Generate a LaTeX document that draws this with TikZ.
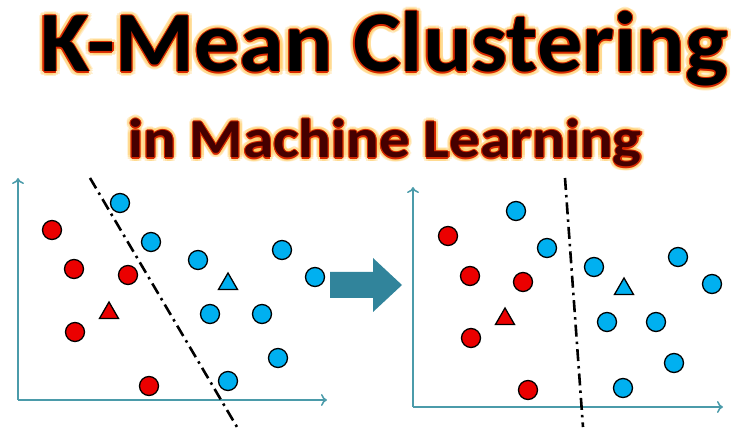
\documentclass[tikz,border=0pt]{standalone}
\usepackage{fontspec}
\setmainfont{Carlito}
\usetikzlibrary{positioning,shapes.geometric,calc,arrows.meta}

\definecolor{ptblue}{RGB}{0,176,240}
\definecolor{ptred}{RGB}{235,0,0}
\definecolor{axisteal}{RGB}{75,155,170}
\definecolor{arrowteal}{RGB}{49,132,155}
\definecolor{glowor}{RGB}{255,200,90}
\definecolor{glowred}{RGB}{215,40,0}
\definecolor{subred}{RGB}{70,0,0}

\newcommand{\titletext}{\scalebox{1.05}[1]{K-Mean Clustering}}
\newcommand{\subtext}{\scalebox{1.11}[1]{in Machine Learning}}

\tikzset{
  bpt/.style={circle, draw, line width=1.3pt, fill=ptblue, minimum size=19pt, inner sep=0pt},
  rpt/.style={bpt, fill=ptred},
  btri/.style={regular polygon, regular polygon sides=3, draw, line width=1.3pt, fill=ptblue, minimum size=22pt, inner sep=0pt},
  rtri/.style={btri, fill=ptred},
  axis/.style={draw=axisteal, line width=1.5pt, -{To[length=6pt,width=12pt]}},
  splitline/.style={line width=2.6pt, dash pattern=on 12pt off 5pt on 2.5pt off 5pt},
  bigtitle/.style={font=\fontsize{86}{86}\selectfont\bfseries, anchor=base, inner sep=0pt},
  smalltitle/.style={font=\fontsize{55}{55}\selectfont\bfseries, anchor=base, inner sep=0pt},
}

\begin{document}
\begin{tikzpicture}[x=1pt,y=-1pt]
\useasboundingbox (0,0) rectangle (739,430);

% title with glow
\foreach \a in {0,30,...,330}{
  \node[bigtitle, text=glowor, opacity=0.3] (tg\a) at ($(384,72)+(\a:4.5)$) {\titletext};
  \node[smalltitle, text=glowor, opacity=0.3] (sg\a) at ($(385,158)+(\a:4)$) {\subtext};
}
\foreach \a in {0,45,...,315}{
  \node[bigtitle, text=glowred] (tr\a) at ($(384,72)+(\a:1.2)$) {\titletext};
  \node[smalltitle, text=glowred] (sr\a) at ($(385,158)+(\a:1.1)$) {\subtext};
}
\node[bigtitle, text=black] (title) at (384,72) {\titletext};
\node[smalltitle, text=subred] (subtitle) at (385,158) {\subtext};

% left panel
\coordinate (lo) at (18,400);
\coordinate (ly) at (18,178);
\coordinate (lx) at (327,400);
\draw[axis] (lo) -- (ly);
\draw[axis] (lo) -- (lx);
\coordinate (ls1) at (90,178);
\coordinate (ls2) at (237,427);
\draw[splitline] (ls1) -- (ls2);

\node[bpt] (lb1) at (120,203) {};
\node[bpt] (lb2) at (151,242) {};
\node[bpt] (lb3) at (198,260) {};
\node[bpt] (lb4) at (282,250) {};
\node[bpt] (lb5) at (315,277) {};
\node[bpt] (lb6) at (210,314) {};
\node[bpt] (lb7) at (262,314) {};
\node[bpt] (lb8) at (278,358) {};
\node[bpt] (lb9) at (228,381) {};
\node[btri] (lbc) at (228,284) {};

\node[rpt] (lr1) at (52,230) {};
\node[rpt] (lr2) at (74,269) {};
\node[rpt] (lr3) at (128,275) {};
\node[rpt] (lr4) at (75,332) {};
\node[rpt] (lr5) at (149,386) {};
\node[rtri] (lrc) at (109,313) {};

% step arrow
\fill[arrowteal] (330,272) -- (373,272) -- (373,258) -- (402,285)
  -- (373,312) -- (373,298) -- (330,298) -- cycle;

% right panel
\coordinate (ro) at (413,407);
\coordinate (ry) at (413,187);
\coordinate (rx) at (723,407);
\draw[axis] (ro) -- (ry);
\draw[axis] (ro) -- (rx);
\coordinate (rs1) at (565,178);
\coordinate (rs2) at (583,427);
\draw[splitline] (rs1) -- (rs2);

\node[bpt] (rb1) at (516,211) {};
\node[bpt] (rb2) at (547,248) {};
\node[bpt] (rb3) at (594,267) {};
\node[bpt] (rb4) at (678,257) {};
\node[bpt] (rb5) at (712,284) {};
\node[bpt] (rb6) at (607,322) {};
\node[bpt] (rb7) at (656,322) {};
\node[bpt] (rb8) at (674,363) {};
\node[bpt] (rb9) at (623,388) {};
\node[btri] (rbc) at (624,289) {};

\node[rpt] (rr1) at (448,236) {};
\node[rpt] (rr2) at (470,276) {};
\node[rpt] (rr3) at (523,282) {};
\node[rpt] (rr4) at (471,338) {};
\node[rpt] (rr5) at (528,390) {};
\node[rtri] (rrc) at (505,319) {};
\end{tikzpicture}
\end{document}
